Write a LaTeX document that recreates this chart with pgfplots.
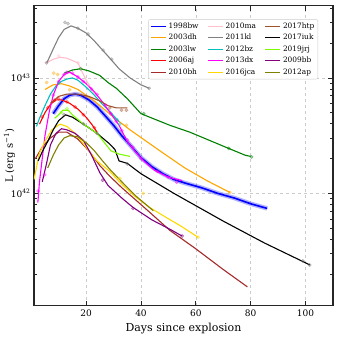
\documentclass[border=0pt]{standalone}
\usepackage{fontspec}
\setmainfont{DejaVu Serif}
\usepackage{pgfplots}
\pgfplotsset{compat=1.18}

\definecolor{snblue}{HTML}{0000FF}
\definecolor{snorange}{HTML}{FFA500}
\definecolor{sngreen}{HTML}{008000}
\definecolor{snred}{HTML}{FF0000}
\definecolor{snbrown}{HTML}{A52A2A}
\definecolor{snpink}{HTML}{FFC0CB}
\definecolor{sngray}{HTML}{808080}
\definecolor{sncyan}{HTML}{00BFBF}
\definecolor{snmagenta}{HTML}{FF00FF}
\definecolor{sngold}{HTML}{FFD700}
\definecolor{snsienna}{HTML}{A0522D}
\definecolor{snlawn}{HTML}{7CFC00}
\definecolor{snpurple}{HTML}{800080}
\definecolor{snolive}{HTML}{808000}

\pgfplotsset{
  sn/.style={line width=1.1pt, no marks},
  pts/.style={only marks, mark=*, mark size=1.7pt, opacity=0.4, forget plot},
}

\begin{document}
\begin{tikzpicture}
\path[use as bounding box] (-34pt,-34pt) rectangle (306pt,306pt);
\begin{axis}[
  scale only axis, width=299pt, height=300pt,
  xmin=1, xmax=110,
  ymode=log, ymin=1.06e41, ymax=4.2e43,
  xtick={20,40,60,80,100},
  ytick={1e42,1e43},
  yticklabels={10\textsuperscript{42},10\textsuperscript{43}},
  minor ytick={2e41,3e41,4e41,5e41,6e41,7e41,8e41,9e41,
               2e42,3e42,4e42,5e42,6e42,7e42,8e42,9e42,2e43,3e43,4e43},
  /pgf/number format/assume math mode=true,
  tick label style={font=\fontsize{9}{10}\selectfont},
  label style={font=\fontsize{11}{12}\selectfont},
  xlabel={Days since explosion},
  ylabel={L (erg s\textsuperscript{−1})},
  every axis y label/.style={at={(axis description cs:-0.082,0.5)},
    rotate=90, anchor=center},
  axis line style={black!85, line width=1.1pt},
  major tick length=5pt, minor tick length=3pt,
  every tick/.style={black!85, line width=0.8pt},
  grid=major,
  major grid style={dashed, black!20, line width=0.6pt},
  legend columns=5, transpose legend,
  legend cell align=left,
  legend style={at={(0.95,0.956)}, anchor=north east,
    font=\fontsize{7.4}{8}\selectfont, draw=black!20, fill=white,
    rounded corners=2pt, inner sep=1.5pt, row sep=0.3pt,
    /tikz/every even column/.append style={column sep=7pt}},
  legend image code/.code={\draw[#1] (0pt,0pt) -- (15pt,0pt);},
]
% 1998bw
\addplot[snblue, line width=4.5pt, opacity=0.3, forget plot] coordinates {
 (8,4.90e42) (10,5.75e42) (12,6.61e42) (14,7.08e42) (16,7.24e42) (18,7.08e42)
 (21,6.46e42) (24,5.62e42) (27,4.68e42) (30,3.89e42) (33,3.16e42) (36,2.63e42)
 (40,2.04e42) (44,1.70e42) (48,1.48e42) (52,1.32e42) (56,1.23e42) (62,1.12e42)
 (68,1.00e42) (74,9.12e41) (80,8.13e41) (86,7.41e41)};
\addplot[snblue, sn, line width=1.6pt] coordinates {
 (8,4.90e42) (10,5.75e42) (12,6.61e42) (14,7.08e42) (16,7.24e42) (18,7.08e42)
 (21,6.46e42) (24,5.62e42) (27,4.68e42) (30,3.89e42) (33,3.16e42) (36,2.63e42)
 (40,2.04e42) (44,1.70e42) (48,1.48e42) (52,1.32e42) (56,1.23e42) (62,1.12e42)
 (68,1.00e42) (74,9.12e41) (80,8.13e41) (86,7.41e41)};
\addlegendentry{1998bw}
% 2003dh
\addplot[snorange, pts] coordinates {
 (5.6,9.12e42) (8.2,1.10e43) (9.6,1.07e43) (14,7.9e42) (34.7,3.89e42) (72.4,1.02e42)};
\addplot[snorange, sn] coordinates {
 (5,7.94e42) (8,8.71e42) (11,8.91e42) (14,8.51e42) (17,7.94e42) (20,7.08e42)
 (23,6.31e42) (26,5.50e42) (30,4.57e42) (36,3.55e42) (42,2.82e42) (48,2.24e42)
 (56,1.66e42) (64,1.29e42) (72.4,1.02e42)};
\addlegendentry{2003dh}
% 2003lw
\addplot[sngreen, pts] coordinates {
 (18,1.2e43) (41,4.9e42) (72,2.45e42) (80.3,2.07e42)};
\addplot[sngreen, sn] coordinates {
 (12,1.10e43) (15,1.17e43) (18,1.20e43) (21,1.15e43) (25,1.05e43) (28,9.12e42)
 (31,8.13e42) (35,6.61e42) (40,4.90e42) (50.5,3.89e42) (57.8,3.39e42)
 (72,2.45e42) (78,2.14e42) (80,2.09e42)};
\addlegendentry{2003lw}
% 2006aj
\addplot[snred, pts] coordinates {
 (4,4.6e42) (6,5.5e42) (8.5,6.4e42) (10,6.6e42) (13,6.2e42) (16,5.6e42) (19,4.8e42) (23,3.7e42)};
\addplot[snred, sn] coordinates {
 (3,3.98e42) (5,5.01e42) (7,5.89e42) (9,6.46e42) (11,6.46e42) (14,6.03e42)
 (17,5.37e42) (20,4.57e42) (22,3.98e42) (24,3.39e42)};
\addlegendentry{2006aj}
% 2010bh
\addplot[snbrown, sn] coordinates {
 (1.5,2.00e42) (4,2.51e42) (7,3.02e42) (10,3.39e42) (13,3.39e42) (17,2.95e42)
 (21,2.34e42) (25,1.74e42) (28.6,1.41e42) (33,1.12e42) (43,6.92e41)
 (50.5,4.79e41) (60,3.31e41) (70,2.19e41) (78.8,1.55e41)};
\addlegendentry{2010bh}
% 2010ma
\addplot[snpink, pts] coordinates {
 (5.5,1.35e43) (10,1.55e43) (17,1.35e43) (21,8.7e42)};
\addplot[snpink, sn] coordinates {
 (5.5,1.35e43) (8,1.45e43) (10.5,1.51e43) (13,1.48e43) (17,1.35e43)
 (19,1.07e43) (21,8.71e42) (23,7.24e42)};
\addlegendentry{2010ma}
% 2011kl
\addplot[sngray, pts] coordinates {
 (5.6,1.35e43) (12.3,3.02e43) (13.4,2.95e43) (17,2.69e43) (20.7,2.40e43)
 (26.2,1.74e43) (29.3,1.45e43) (43,8.13e42)};
\addplot[sngray, sn] coordinates {
 (5.7,1.35e43) (8,1.78e43) (10,2.24e43) (12,2.63e43) (14.5,2.82e43) (17,2.69e43)
 (20,2.45e43) (23,2.09e43) (26,1.74e43) (29,1.45e43) (32,1.20e43) (36,1.00e43)
 (40,8.71e42) (43,8.13e42)};
\addlegendentry{2011kl}
% 2012bz
\addplot[sncyan, pts] coordinates {(10,9.1e42) (31.2,4.37e42) (32.3,3.98e42)};
\addplot[sncyan, sn] coordinates {
 (1.9,3.80e42) (3,4.47e42) (5,5.75e42) (7,7.24e42) (9,8.51e42) (11,9.33e42)
 (13,9.77e42) (15,1.00e43) (17,9.55e42) (20,8.32e42) (23,7.08e42) (26,5.89e42)
 (29,5.01e42) (32,4.17e42)};
\addlegendentry{2012bz}
% 2013dx
\addplot[snmagenta, pts] coordinates {
 (2.5,1.05e42) (4.9,1.45e42) (8,7.1e42) (10,9.3e42) (12,1.07e43) (13,1.12e43)
 (15,1.10e43) (17,1.02e43) (19,9.3e42) (22,8.0e42) (24,7.2e42) (27,5.8e42)
 (29,4.9e42) (31,4.2e42) (33,3.5e42) (35,2.9e42) (37,2.5e42) (40,2.0e42)
 (46,1.55e42) (50,1.38e42) (53,1.25e42)};
\addplot[snmagenta, sn] coordinates {
 (2.4,8.32e41) (3,1.26e42) (4,2.00e42) (5,3.16e42) (6.5,5.01e42) (8,7.08e42)
 (10,9.33e42) (12,1.07e43) (14,1.12e43) (17,1.02e43) (20,8.91e42) (23,7.59e42)
 (26,6.17e42) (29,4.90e42) (32,3.89e42) (35,2.82e42) (38,2.29e42) (41,1.91e42)
 (45,1.58e42) (50,1.38e42) (55,1.29e42)};
\addlegendentry{2013dx}
% 2016jca
\addplot[sngold, pts] coordinates {(32.3,1.35e42) (40.8,1.0e42) (60.8,4.17e41)};
\addplot[sngold, sn] coordinates {
 (1,1.32e42) (3,2.24e42) (5,2.82e42) (7.5,3.55e42) (10.5,3.98e42) (13,3.80e42)
 (16,3.31e42) (20,2.51e42) (24,1.91e42) (28.6,1.55e42) (33,1.20e42) (38,9.33e41)
 (43,7.59e41) (50,6.03e41) (55,5.13e41) (60.8,4.17e41)};
\addlegendentry{2016jca}
% 2017htp
\addplot[snsienna, pts] coordinates {
 (20,6.9e42) (28.6,5.5e42) (32.9,5.25e42) (34.7,5.25e42)};
\addplot[snsienna, sn] coordinates {
 (7,6.03e42) (10,6.92e42) (13,7.24e42) (17,7.24e42) (21,6.92e42) (25,6.31e42)
 (28,5.75e42) (31,5.50e42) (35,5.50e42)};
\addlegendentry{2017htp}
% 2017iuk
\addplot[black!60, pts] coordinates {
 (12,4.8e42) (19,4.0e42) (24,3.3e42) (35,1.8e42) (99,2.6e41) (101.5,2.4e41)};
\addplot[black, sn] coordinates {
 (2.5,1.91e42) (4,2.29e42) (6,2.82e42) (8,3.55e42) (10,4.27e42) (12.5,4.79e42)
 (15,4.57e42) (19,3.98e42) (24,3.31e42) (28.5,2.69e42) (30.5,2.40e42)
 (32,1.91e42) (35,1.82e42) (40,1.48e42) (52,1.00e42) (70,5.75e41) (85,3.72e41)
 (99,2.57e41) (101.5,2.40e41)};
\addlegendentry{2017iuk}
% 2019jrj
\addplot[snlawn, pts] coordinates {(11,5.0e42) (13,5.4e42)};
\addplot[snlawn, sn] coordinates {
 (8.5,4.47e42) (10,4.79e42) (11.5,5.25e42) (13.5,5.25e42) (15,4.79e42)
 (19,3.98e42) (24,3.31e42) (27,2.69e42) (29,2.34e42) (32,2.19e42) (36,2.09e42)};
\addlegendentry{2019jrj}
% 2009bb
\addplot[snpurple, pts] coordinates {(26,1.3e42) (37.1,7.4e41) (55,4.27e41)};
\addplot[snpurple, sn] coordinates {
 (4,1.26e42) (5.5,1.78e42) (7,2.63e42) (9,3.31e42) (11,3.63e42) (13,3.55e42)
 (16,3.31e42) (19,2.88e42) (22,2.14e42) (25,1.51e42) (28,1.17e42) (33,9.12e41)
 (37,7.59e41) (44,5.89e41) (50.5,4.90e41) (55,4.27e41)};
\addlegendentry{2009bb}
% 2012ap
\addplot[snolive, sn] coordinates {
 (6,1.66e42) (8,2.14e42) (10,2.63e42) (12,3.02e42) (14,3.16e42) (17,3.09e42)
 (20,2.75e42) (23,2.34e42) (26,1.91e42) (29,1.58e42) (33,1.26e42) (38,9.55e41)
 (44.5,7.08e41)};
\addlegendentry{2012ap}
\end{axis}
\end{tikzpicture}
\end{document}
